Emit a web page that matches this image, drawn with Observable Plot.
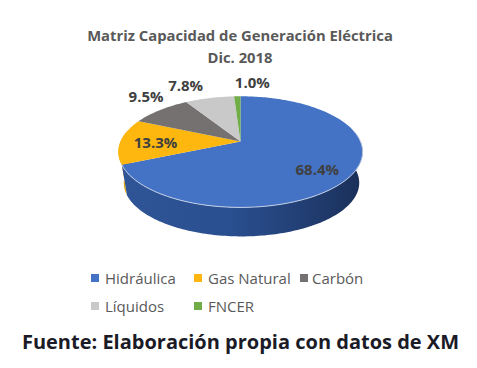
<!DOCTYPE html>
<html><head><meta charset="utf-8">
<script src="https://cdn.jsdelivr.net/npm/d3@7"></script>
<script src="https://cdn.jsdelivr.net/npm/@observablehq/plot@0.6"></script>
<style>
html,body{margin:0;padding:0;background:#fff}
#page{position:relative;width:477px;height:368px;overflow:hidden;font-family:"Open Sans",sans-serif}
#title{position:absolute;left:0;top:24px;width:480px;text-align:center;font-size:14.8px;line-height:22px;font-weight:700;color:#595959}
#chart{position:absolute;left:0;top:72px}
#legend{position:absolute;left:0;top:0}
.it{position:absolute;font-size:15px;line-height:20px;color:#595959;white-space:nowrap}
.sw{position:absolute;width:8px;height:8px}
#caption{position:absolute;left:0;top:329px;width:481px;text-align:center;font-size:20px;line-height:26px;font-weight:700;color:#1b1b27}
</style></head><body>
<div id="page">
<div id="title">Matriz Capacidad de Generación Eléctrica<br>Dic. 2018</div>
<div id="chart"></div>
<div id="legend"></div>
<div id="caption">Fuente: Elaboración propia con datos de XM</div>
</div>
<script>
const categories = ["Hidráulica","Gas Natural","Carbón","Líquidos","FNCER"];
const values = [68.4,13.3,9.5,7.8,1.0];
const labels = ["68.4%","13.3%","9.5%","7.8%","1.0%"];
const colors = ["#4472c4","#fdb70f","#767171","#c9c9c9","#70ad47"];

// label placement: radius on the pie, then pixel nudge
const labelRadius = [0.7,0.7,1,1,1];
const labelDx = [1,-1,-14,-24,15];
const labelDy = [7,2,-13,-12,-13];
const legendCol = [[91,105],[194,208],[300,312],[91,105],[194,208]];
const legendRow = [0,0,0,1,1];

const total = d3.sum(values);
const starts = d3.cumsum([0,...values]).map(v => v/total*2*Math.PI);
const k = 0.186, a = 0.447, R = 120, H = 170, CY = 69;
const project = (t, r=1) => {
  const u = r*Math.sin(t), v = -r*Math.cos(t), den = 1-k*v;
  return {x:u/den, y:a*v/den};
};
const offY = 10.5/R, shrink = 0.964, drop = 31/R, offX = 1/R;
const lower = p => ({x:p.x*shrink+offX, y:(p.y-offY)*shrink+offY+drop});
const arc = (t0,t1) => {
  const n = Math.max(2,Math.ceil((t1-t0)/0.02)), out=[];
  for(let i=0;i<=n;i++) out.push(t0+(t1-t0)*i/n);
  return out;
};

// top face polygons
const slices = categories.flatMap((c,i)=>[
  {c,x:0,y:0},
  ...arc(starts[i],starts[i+1]).map(t=>({c,...project(t)}))
]);

// visible wall: front rim, from the right extreme round to the left extreme
const tR = Math.PI/2-0.19, tL = 3*Math.PI/2+0.19;
const wallSeg = (t0,t1) => {
  const top = arc(t0,t1).map(t=>project(t));
  return [...top,...top.map(lower).reverse()];
};
const wallBlue = wallSeg(tR,starts[1]);
const wallGold = wallSeg(starts[1],tL);
const rim = arc(tR,starts[1]).map(t=>project(t));

const gradient = () => {
  const ns="http://www.w3.org/2000/svg";
  const defs=document.createElementNS(ns,"defs");
  const g=document.createElementNS(ns,"linearGradient");
  g.setAttribute("id","wall");
  [["0","#2f5597"],["0.45","#2a4f8f"],["0.75","#223f74"],["1","#1a2f59"]].forEach(([o,c])=>{
    const s=document.createElementNS(ns,"stop");
    s.setAttribute("offset",o);s.setAttribute("stop-color",c);g.appendChild(s);
  });
  defs.appendChild(g);
  return defs;
};

const labelMarks = labels.map((text,i)=>{
  const p = project((starts[i]+starts[i+1])/2,labelRadius[i]);
  return Plot.text([p],{x:"x",y:"y",text:()=>text,dx:labelDx[i],dy:labelDy[i],
    fontSize:15,fontWeight:700,fontFamily:"Open Sans",fill:"#404040"});
});

const plot = Plot.plot({
  width:477,height:H,margin:0,
  x:{domain:[-240/R,237/R],range:[0,477],axis:null},
  y:{domain:[-CY/R,(H-CY)/R],range:[0,H],axis:null},
  color:{domain:categories,range:colors},
  marks:[
    gradient,
    Plot.line(wallGold,{x:"x",y:"y",fill:"#e0a40e",stroke:"none"}),
    Plot.line(wallBlue,{x:"x",y:"y",fill:"url(#wall)",stroke:"none"}),
    Plot.line(slices,{x:"x",y:"y",z:"c",fill:"c",stroke:"none"}),
    Plot.line(rim,{x:"x",y:"y",stroke:"#c5d2e8",strokeWidth:1}),
    ...labelMarks
  ]
});
document.getElementById("chart").appendChild(plot);

const legend=document.getElementById("legend");
categories.forEach((c,i)=>{
  const y=268+legendRow[i]*28;
  const sw=document.createElement("div");
  sw.className="sw";sw.style.left=legendCol[i][0]+"px";sw.style.top=(y+6)+"px";sw.style.background=colors[i];
  const t=document.createElement("div");
  t.className="it";t.style.left=legendCol[i][1]+"px";t.style.top=y+"px";t.textContent=c;
  legend.append(sw,t);
});
</script>
</body></html>
